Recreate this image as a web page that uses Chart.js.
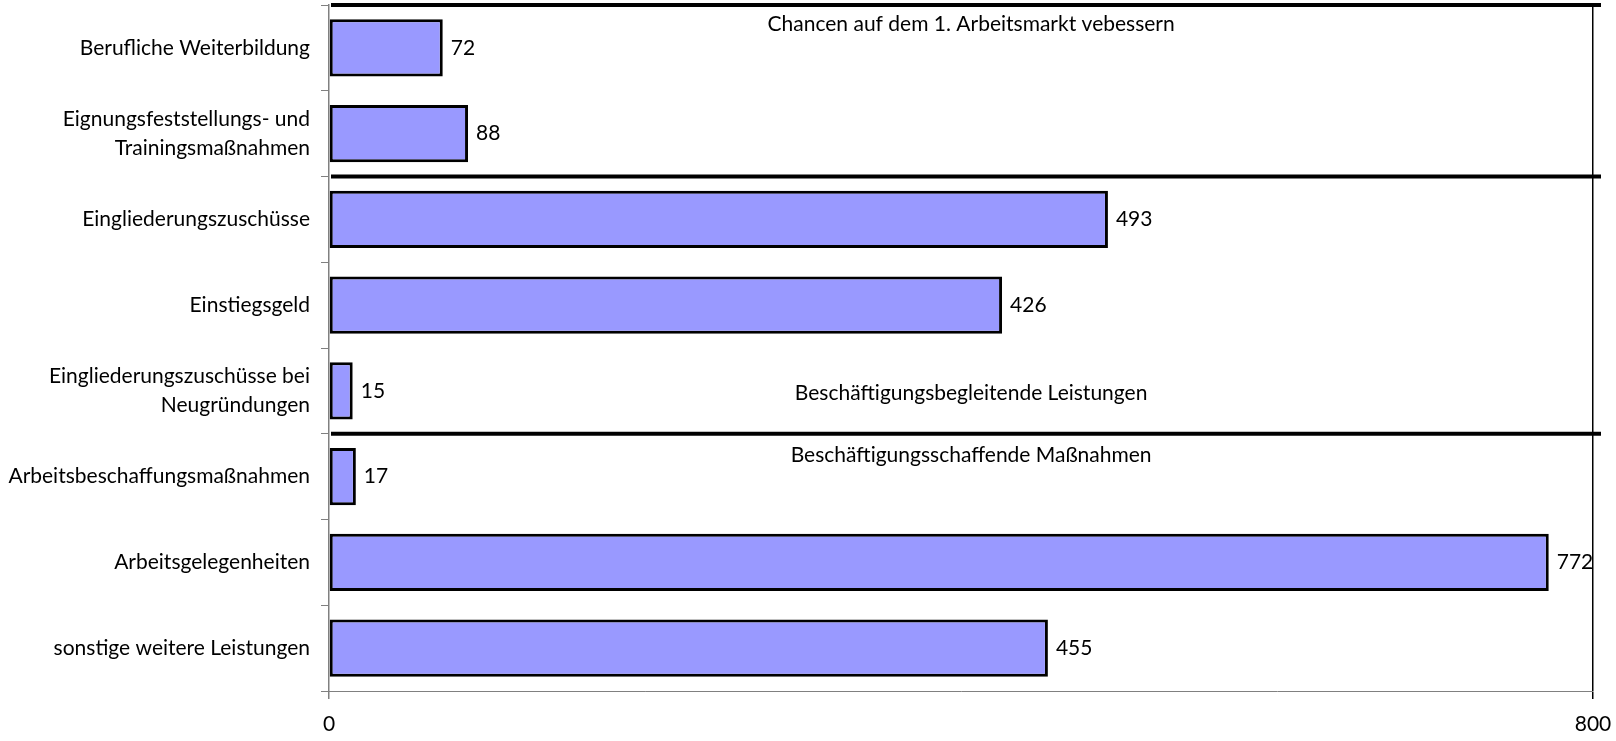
<!DOCTYPE html>
<html>
<head>
<meta charset="utf-8">
<script src="https://cdn.jsdelivr.net/npm/chart.js@4"></script>
<style>
  html, body { margin: 0; padding: 0; background: #fff; }
  #wrap { width: 1616px; height: 741px; position: relative; }
</style>
</head>
<body>
<div id="wrap"><canvas id="massnahmenChart"></canvas></div>
<script>
const categories = [
    'Berufliche Weiterbildung',
    ['Eignungsfeststellungs- und', 'Trainingsmaßnahmen'],
    'Eingliederungszuschüsse',
    'Einstiegsgeld',
    ['Eingliederungszuschüsse bei', 'Neugründungen'],
    'Arbeitsbeschaffungsmaßnahmen',
    'Arbeitsgelegenheiten',
    'sonstige weitere Leistungen'
];
const values = [72, 88, 493, 426, 15, 17, 772, 455];
const xTicks = [0, 800];

// section headings and the category index where each section starts
const sectionStarts = [0, 2, 5];
const sectionTitles = [
    'Chancen auf dem 1. Arbeitsmarkt vebessern',
    'Beschäftigungsbegleitende Leistungen',
    'Beschäftigungsschaffende Maßnahmen'
];

const fontFamily = 'Lato, "Open Sans", sans-serif';
const fontSize = 21;

// Draws the value next to each bar
const valueLabelsPlugin = {
    id: 'valueLabelsPlugin',
    afterDatasetsDraw(chart) {
        const {ctx} = chart;
        const meta = chart.getDatasetMeta(0);
        ctx.save();
        ctx.fillStyle = '#000';
        ctx.font = fontSize + 'px ' + fontFamily;
        ctx.textAlign = 'left';
        ctx.textBaseline = 'middle';
        meta.data.forEach((bar, i) => {
            ctx.fillText(String(values[i]), bar.x + 8, bar.y);
        });
        ctx.restore();
    }
};

// Thick separator lines between groups + group headings
const sectionsPlugin = {
    id: 'sectionsPlugin',
    afterDatasetsDraw(chart) {
        const {ctx, chartArea, scales: {y}} = chart;
        const step = y.getPixelForValue(1) - y.getPixelForValue(0);
        ctx.save();
        ctx.strokeStyle = '#000';
        ctx.lineWidth = 4;
        sectionStarts.forEach(start => {
            const yy = y.getPixelForValue(start) - step / 2;
            ctx.beginPath();
            ctx.moveTo(chartArea.left + 2, yy);
            ctx.lineTo(chartArea.right + 8, yy);
            ctx.stroke();
        });

        ctx.fillStyle = '#000';
        ctx.font = fontSize + 'px ' + fontFamily;
        ctx.textAlign = 'center';
        ctx.textBaseline = 'middle';
        const cx = chartArea.left + (chartArea.right - chartArea.left) * 0.508;
        const top0 = y.getPixelForValue(0) - step / 2;
        const top5 = y.getPixelForValue(5) - step / 2;
        ctx.fillText(sectionTitles[0], cx, top0 + 19);
        ctx.fillText(sectionTitles[1], cx, y.getPixelForValue(4) + 2);
        ctx.fillText(sectionTitles[2], cx, top5 + 21);
        ctx.restore();
    }
};

const chartCtx = document.getElementById('massnahmenChart').getContext('2d');
new Chart(chartCtx, {
    type: 'bar',
    data: {
        labels: categories,
        datasets: [{
            data: values,
            backgroundColor: '#9999FF',
            borderColor: '#000',
            borderWidth: 3,
            borderSkipped: false,
            categoryPercentage: 1,
            barPercentage: 0.665
        }]
    },
    options: {
        indexAxis: 'y',
        responsive: true,
        maintainAspectRatio: false,
        animation: false,
        layout: {
            padding: {top: 5, right: 23, bottom: 0, left: 0}
        },
        scales: {
            x: {
                min: xTicks[0],
                max: xTicks[xTicks.length - 1],
                afterBuildTicks(scale) {
                    scale.ticks = xTicks.map(v => ({value: v}));
                },
                afterFit(scale) {
                    scale.height = 50;
                    scale.paddingLeft = 0;
                    scale.paddingRight = 0;
                },
                border: {color: '#808080', width: 1},
                grid: {
                    color: c => (c.tick && c.tick.value === 800) ? '#000' : 'transparent',
                    tickColor: c => (c.tick && c.tick.value === 800) ? '#000' : '#808080',
                    tickLength: 8,
                    lineWidth: 1.5
                },
                ticks: {
                    color: '#000',
                    padding: 13,
                    maxRotation: 0,
                    font: {family: fontFamily, size: fontSize}
                }
            },
            y: {
                afterFit(scale) {
                    scale.width = 329;
                    scale.paddingTop = 0;
                    scale.paddingBottom = 0;
                },
                border: {color: '#808080', width: 1.5},
                grid: {
                    offset: true,
                    drawOnChartArea: false,
                    color: '#808080',
                    tickLength: 8
                },
                ticks: {
                    color: '#000',
                    padding: 11,
                    font: {family: fontFamily, size: fontSize, lineHeight: 1.35}
                }
            }
        },
        plugins: {
            legend: {display: false},
            tooltip: {enabled: false}
        }
    },
    plugins: [valueLabelsPlugin, sectionsPlugin]
});
</script>
</body>
</html>
